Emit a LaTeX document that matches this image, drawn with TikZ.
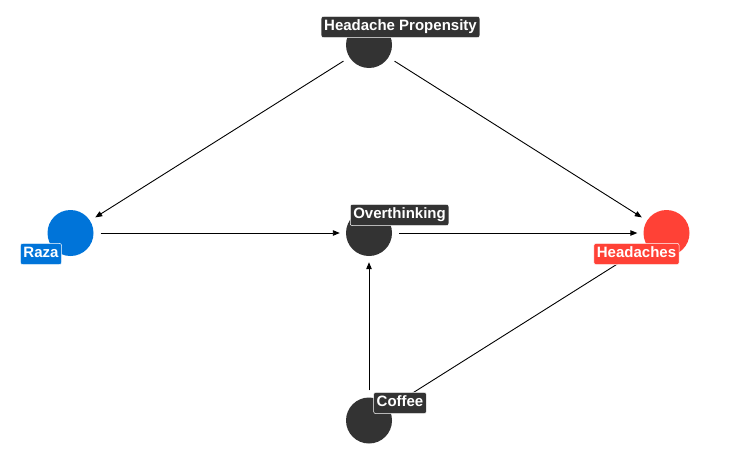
\documentclass[tikz,border=0pt]{standalone}
\usepackage{fontspec}
\setmainfont{Liberation Sans}
\usetikzlibrary{arrows.meta}
\definecolor{dkgray}{RGB}{51,51,51}
\definecolor{nblue}{RGB}{0,116,217}
\definecolor{nred}{RGB}{255,65,54}
\tikzset{
  dagnode/.style={circle, minimum size=46pt, inner sep=0pt, fill=#1},
  daglabel/.style={rounded corners=2pt, fill=#1, draw=white, line width=0.5pt,
    text=white, font=\fontsize{15}{18}\selectfont\bfseries,
    inner xsep=3pt, inner ysep=3.5pt, text height=11pt, text depth=3.2pt},
  dagedge/.style={line width=0.9pt, -{Triangle[length=7pt,width=5.5pt]},
    shorten <=7pt, shorten >=6pt}
}
\begin{document}
\begin{tikzpicture}[x=1pt,y=-1pt]
\useasboundingbox (0,0) rectangle (735,471);
\node[dagnode=dkgray] (hp) at (369,45) {};
\node[dagnode=nblue] (raza) at (70.5,233) {};
\node[dagnode=dkgray] (ov) at (369,233) {};
\node[dagnode=nred] (hd) at (666.5,233) {};
\node[dagnode=dkgray] (co) at (369,420.5) {};
\draw[dagedge] (hp) -- (raza);
\draw[dagedge] (hp) -- (hd);
\draw[dagedge] (raza) -- (ov);
\draw[dagedge] (ov) -- (hd);
\draw[dagedge] (co) -- (ov);
\draw[dagedge] (co) -- (hd);
\node[daglabel=dkgray] (lhp) at (400.5,27) {Headache Propensity};
\node[daglabel=nblue] (lraza) at (41,254) {Raza};
\node[daglabel=dkgray] (lov) at (399.5,215) {Overthinking};
\node[daglabel=nred] (lhd) at (636.5,254) {Headaches};
\node[daglabel=dkgray] (lco) at (400,403) {Coffee};
\end{tikzpicture}
\end{document}
